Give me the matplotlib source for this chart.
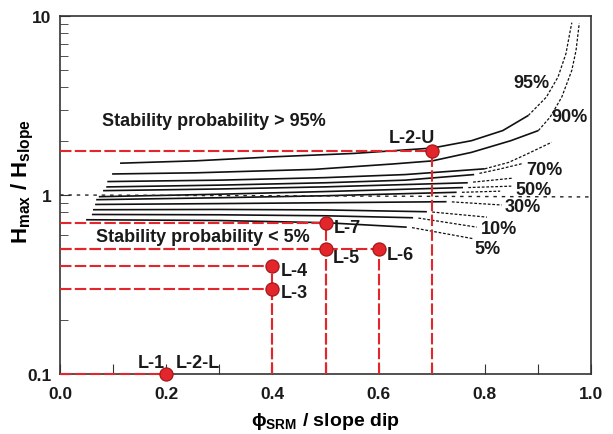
import matplotlib
matplotlib.use('Agg')
import matplotlib.pyplot as plt
import numpy as np

plt.rcParams['font.family'] = ['Liberation Sans', 'DejaVu Sans']
plt.rcParams['font.weight'] = 'bold'
plt.rcParams['mathtext.fontset'] = 'custom'
plt.rcParams['mathtext.rm'] = 'Liberation Sans:bold'
plt.rcParams['mathtext.bf'] = 'Liberation Sans:bold'

# probability curves: solid part and dotted extension
curve_labels = ['95%', '90%', '80%', '70%', '60%', '50%', '40%', '30%', '20%', '10%', '5%']
solid_x = [
    [0.113, 0.257, 0.405, 0.553, 0.701, 0.775, 0.834, 0.882],
    [0.098, 0.257, 0.479, 0.627, 0.701, 0.775, 0.849, 0.901],
    [0.089, 0.3, 0.5, 0.65, 0.80],
    [0.087, 0.3, 0.5, 0.65, 0.78],
    [0.081, 0.3, 0.5, 0.768],
    [0.073, 0.3, 0.5, 0.759],
    [0.068, 0.3, 0.5, 0.747],
    [0.066, 0.3, 0.5, 0.728],
    [0.062, 0.3, 0.5, 0.691],
    [0.060, 0.3, 0.5, 0.665],
    [0.049, 0.3, 0.5, 0.653],
]
solid_y = [
    [1.505, 1.552, 1.635, 1.706, 1.828, 2.01, 2.29, 2.78],
    [1.31, 1.33, 1.39, 1.49, 1.55, 1.73, 2.01, 2.29],
    [1.188, 1.21, 1.25, 1.30, 1.40],
    [1.109, 1.135, 1.17, 1.21, 1.30],
    [1.057, 1.08, 1.11, 1.17],
    [0.978, 1.01, 1.045, 1.10],
    [0.941, 0.965, 0.99, 1.035],
    [0.885, 0.895, 0.905, 0.917],
    [0.827, 0.83, 0.825, 0.806],
    [0.778, 0.775, 0.765, 0.746],
    [0.727, 0.72, 0.70, 0.661],
]
dotted_x = [
    [0.882, 0.916, 0.938, 0.953, 0.960, 0.964],
    [0.901, 0.923, 0.945, 0.964, 0.972, 0.978],
    [0.80, 0.845, 0.879, 0.926],
    [0.79, 0.83, 0.872],
    [0.778, 0.851],
    [0.769, 0.85],
    [0.757, 0.829],
    [0.738, 0.832],
    [0.701, 0.804],
    [0.675, 0.785],
    [0.663, 0.778],
]
dotted_y = [
    [2.78, 3.52, 4.56, 6.17, 7.98, 9.17],
    [2.29, 2.72, 3.52, 4.97, 6.44, 9.1],
    [1.40, 1.52, 1.69, 1.97],
    [1.32, 1.40, 1.50],
    [1.18, 1.24],
    [1.10, 1.12],
    [1.035, 1.05],
    [0.915, 0.879],
    [0.803, 0.752],
    [0.743, 0.661],
    [0.657, 0.570],
]
label_x = [0.887, 0.959, None, 0.912, None, 0.891, None, 0.871, None, 0.827, 0.805]
label_y = [4.27, 2.74, None, 1.39, None, 1.07, None, 0.86, None, 0.647, 0.504]

ref_x = [0.0, 1.0]
ref_y = [1.0, 0.975]

# site points
site_names = ['L-1, L-2-L', 'L-2-U', 'L-3', 'L-4', 'L-5', 'L-6', 'L-7']
site_x = [0.2, 0.7, 0.4, 0.4, 0.5, 0.6, 0.5]
site_y = [0.1, 1.76, 0.3, 0.4, 0.5, 0.5, 0.7]

red = '#e3262b'

fig = plt.figure(figsize=(6.13, 4.35), dpi=100)
ax = fig.add_axes([0.098, 0.138, 0.866, 0.823])
ax.set_yscale('log')

for sx, sy in zip(solid_x, solid_y):
    ax.plot(sx, sy, color='#111111', lw=1.2, solid_capstyle='butt')
for dx, dy in zip(dotted_x, dotted_y):
    ax.plot(dx, dy, color='#111111', lw=0.9, linestyle=(0, (2.2, 1.4)))
for lab, lx, ly in zip(curve_labels, label_x, label_y):
    if lx is not None:
        ax.text(lx, ly, lab, fontsize=13, fontweight='bold', ha='center', va='center', color='#1a1a1a')

ax.plot(ref_x, ref_y, color='#222222', lw=1.0, linestyle=(0, (2.5, 3.5)))

# red guide lines
for x, y in zip(site_x, site_y):
    ax.plot([0, x], [y, y], color=red, lw=1.5, dashes=(5.5, 1.6), clip_on=False, zorder=4)
    ax.plot([x, x], [0.1, y], color=red, lw=1.5, dashes=(5.5, 1.6), clip_on=False, zorder=4)
ax.plot(site_x, site_y, 'o', color=red, markeredgecolor='#9e1414', markeredgewidth=0.8,
        markersize=9.5, clip_on=False, zorder=5)

txt = dict(fontsize=13, fontweight='bold', color='#1a1a1a')
ax.text(0.146, 0.1153, 'L-1', ha='left', va='center', **txt)
ax.text(0.218, 0.1153, 'L-2-L', ha='left', va='center', **txt)
ax.text(0.62, 2.10, 'L-2-U', ha='left', va='center', **txt)
ax.text(0.416, 0.286, 'L-3', ha='left', va='center', **txt)
ax.text(0.416, 0.377, 'L-4', ha='left', va='center', **txt)
ax.text(0.514, 0.449, 'L-5', ha='left', va='center', **txt)
ax.text(0.616, 0.464, 'L-6', ha='left', va='center', **txt)
ax.text(0.516, 0.655, 'L-7', ha='left', va='center', **txt)

ax.text(0.079, 2.6, 'Stability probability > 95%', ha='left', va='center', **txt)
ax.text(0.068, 0.589, 'Stability probability < 5%', ha='left', va='center', **txt)

ax.set_xlim(0, 1.0)
ax.set_ylim(0.1, 10)
ax.set_xticks(np.arange(0, 1.01, 0.1))
ax.set_xticklabels(['0.0', '', '0.2', '', '0.4', '', '0.6', '', '0.8', '', '1.0'])
ax.set_yticks([0.1, 1, 10])
ax.set_yticklabels(['0.1', '1', '10'])
ax.tick_params(axis='both', which='both', direction='in', top=False, right=False,
               labelsize=12.5, colors='#333333', labelcolor='#1a1a1a')
ax.tick_params(axis='x', length=7, pad=9)
ax.tick_params(axis='y', which='major', length=7, pad=6)
ax.tick_params(axis='y', which='minor', length=6)
for lbl in ax.get_xticklabels() + ax.get_yticklabels():
    lbl.set_fontweight('bold')
for sp in ax.spines.values():
    sp.set_linewidth(1.2)
    sp.set_color('#333333')

ax.set_xlabel('\u03d5$_{\\mathrm{SRM}}$ / slope dip', fontsize=14, fontweight='bold')
ax.xaxis.set_label_coords(0.5, -0.1)
ax.set_ylabel(r'$\mathrm{H}_{\mathrm{max}}$ / $\mathrm{H}_{\mathrm{slope}}$', fontsize=16, fontweight='bold')
ax.yaxis.set_label_coords(-0.045, 0.54)

fig.savefig('out.png', dpi=100)
